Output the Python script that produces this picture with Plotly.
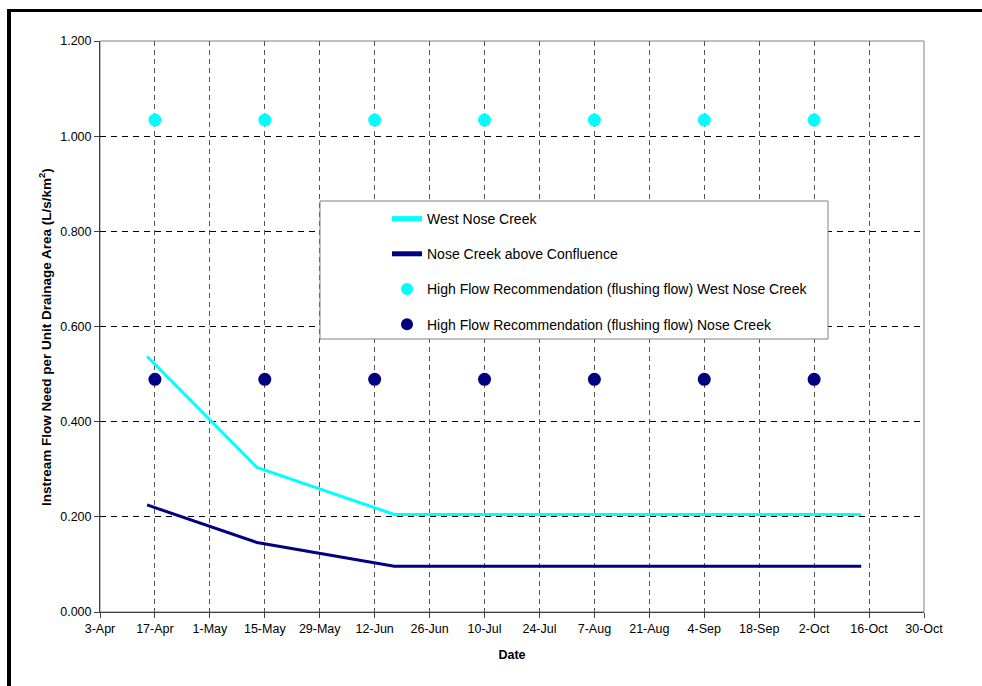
import plotly.graph_objects as go

# Instream flow need per unit drainage area (L/s/km2)
west_dates = ["2007-04-15", "2007-05-13", "2007-06-17", "2007-10-14"]
west_values = [0.537, 0.304, 0.205, 0.205]

nose_dates = ["2007-04-15", "2007-05-13", "2007-06-17", "2007-10-14"]
nose_values = [0.225, 0.146, 0.096, 0.096]

# High flow (flushing flow) recommendations
flush_dates = ["2007-04-17", "2007-05-15", "2007-06-12", "2007-07-10",
               "2007-08-07", "2007-09-04", "2007-10-02"]
flush_west = [1.034, 1.034, 1.034, 1.034, 1.034, 1.034, 1.034]
flush_nose = [0.489, 0.489, 0.489, 0.489, 0.489, 0.489, 0.489]

x_range = ["2007-04-03", "2007-10-30"]
y_ticks = [0.0, 0.2, 0.4, 0.6, 0.8, 1.0, 1.2]

W, H = 982, 686
ML, MR, MT, MB = 100, 58, 41, 74
PW, PH = W - ML - MR, H - MT - MB


def px(xp):
    return (xp - ML) / PW


def py(yp):
    return (H - MB - yp) / PH


FONT = "Liberation Sans, Arial, sans-serif"

fig = go.Figure()
fig.add_trace(go.Scatter(x=west_dates, y=west_values, mode="lines",
                         name="West Nose Creek", legendgroup="a",
                         line=dict(color="#00FFFF", width=3)))
fig.add_trace(go.Scatter(x=nose_dates, y=nose_values, mode="lines",
                         name="Nose Creek above Confluence", legendgroup="b",
                         line=dict(color="#000080", width=3)))
fig.add_trace(go.Scatter(x=flush_dates, y=flush_west, mode="markers",
                         name="High Flow Recommendation (flushing flow) West Nose Creek",
                         legendgroup="c",
                         marker=dict(color="#00FFFF", size=13)))
fig.add_trace(go.Scatter(x=flush_dates, y=flush_nose, mode="markers",
                         name="High Flow Recommendation (flushing flow) Nose Creek",
                         legendgroup="d",
                         marker=dict(color="#000080", size=13)))

shapes = [
    # plot area border
    dict(type="rect", xref="paper", yref="paper", x0=0, x1=1, y0=0, y1=1,
         line=dict(color="#808080", width=1), layer="below"),
    # legend box
    dict(type="rect", xref="paper", yref="paper",
         x0=px(320), x1=px(828), y0=py(339), y1=py(201),
         line=dict(color="#808080", width=1), fillcolor="white", layer="above"),
    # outer frame (top and left)
    dict(type="line", xref="paper", yref="paper",
         x0=px(7), x1=px(990), y0=py(10.5), y1=py(10.5),
         line=dict(color="black", width=3)),
    dict(type="line", xref="paper", yref="paper",
         x0=px(9), x1=px(9), y0=py(9), y1=py(690),
         line=dict(color="black", width=4)),
]

annotations = [
    dict(text="<b>Instream Flow Need per Unit Drainage Area (L/s/km<sup>2</sup>)</b>",
         xref="paper", yref="paper", x=px(45), y=py(337),
         xanchor="center", yanchor="middle", textangle=-90, showarrow=False,
         font=dict(family=FONT, size=13.5, color="black")),
]

fig.update_layout(
    width=W, height=H,
    margin=dict(l=ML, r=MR, t=MT, b=MB),
    paper_bgcolor="white", plot_bgcolor="white",
    font=dict(family=FONT, color="black", size=12),
    shapes=shapes,
    annotations=annotations,
    showlegend=True,
    legend=dict(
        x=px(387), y=py(203), xanchor="left", yanchor="top",
        bgcolor="rgba(0,0,0,0)", borderwidth=0,
        font=dict(family=FONT, size=14, color="black"),
        traceorder="grouped", tracegroupgap=14,
        itemsizing="constant",
    ),
    xaxis=dict(
        type="date", range=x_range,
        tick0="2007-04-03", dtick=14 * 86400000, tickformat="%-d-%b",
        showgrid=True, gridcolor="#555555", griddash="5px,4px", gridwidth=1,
        showline=True, linecolor="#404040", linewidth=1,
        ticks="outside", ticklen=5, tickcolor="#404040",
        tickfont=dict(size=12.5),
        title=dict(text="<b>Date</b>", font=dict(size=12.5), standoff=15),
    ),
    yaxis=dict(
        range=[0, 1.2], tickvals=y_ticks, tickformat=".3f",
        showgrid=True, gridcolor="black", griddash="6px,5px", gridwidth=1,
        zeroline=False,
        showline=True, linecolor="#404040", linewidth=1,
        ticks="outside", ticklen=5, tickcolor="#404040",
        tickfont=dict(size=12.5),
    ),
)

fig.write_html("out.html")
